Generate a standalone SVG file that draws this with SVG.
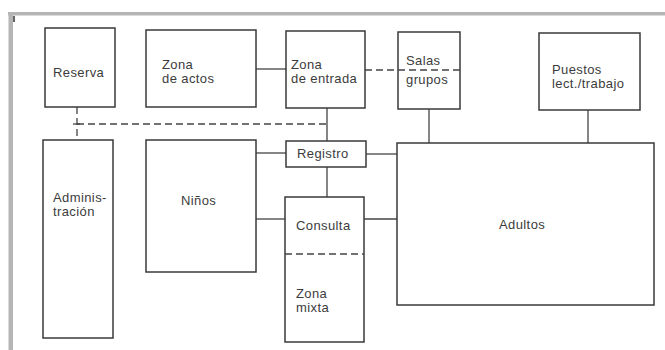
<svg xmlns="http://www.w3.org/2000/svg" width="665" height="350" viewBox="0 0 665 350">
<style>
.box{fill:#fff;stroke:#3a3a3a;stroke-width:1.5}
.ln{stroke:#444;stroke-width:1.3;fill:none}
.dash{stroke:#444;stroke-width:1.3;fill:none;stroke-dasharray:7 4}
text{font-family:"Liberation Sans",Arial,sans-serif;font-size:13px;letter-spacing:0.4px;fill:#3c3c3c}
</style>
<rect width="665" height="350" fill="#fff"/>
<rect x="8" y="12" width="657" height="3.5" fill="#b5b5b5"/>
<rect x="8.5" y="12" width="4.5" height="338" fill="#b5b5b5"/>
<line x1="14" y1="16" x2="14" y2="22" stroke="#333" stroke-width="1.5"/>
<g id="connectors">
<line class="ln" x1="256" y1="69" x2="286" y2="69"/>
<line class="dash" x1="365" y1="70" x2="460" y2="70"/>
<line class="dash" x1="77" y1="107" x2="77" y2="140"/>
<line class="dash" x1="77" y1="124" x2="327" y2="124"/>
<line class="ln" x1="73" y1="124" x2="80" y2="124"/>
<line class="ln" x1="327" y1="108" x2="327" y2="141"/>
<line class="ln" x1="256" y1="153" x2="286" y2="153"/>
<line class="ln" x1="366" y1="154" x2="397" y2="154"/>
<line class="ln" x1="327" y1="167" x2="327" y2="197"/>
<line class="ln" x1="429" y1="109" x2="429" y2="143"/>
<line class="ln" x1="588" y1="110" x2="588" y2="143"/>
<line class="ln" x1="256" y1="219" x2="285" y2="219"/>
<line class="ln" x1="364" y1="219" x2="397" y2="219"/>
</g>
<g id="reserva"><rect class="box" x="45" y="28" width="70" height="79"/><text x="53" y="77">Reserva</text></g>
<g id="zona-actos"><rect class="box" x="146" y="30" width="110" height="77"/><text x="162" y="68.7">Zona<tspan x="162" dy="14.7">de actos</tspan></text></g>
<g id="zona-entrada"><rect class="box" x="286" y="31" width="79" height="77"/><text x="291" y="68.7">Zona<tspan x="291" dy="14.7">de entrada</tspan></text></g>
<g id="salas-grupos"><rect class="box" x="398" y="32" width="62" height="77"/><line class="dash" x1="398" y1="70" x2="460" y2="70"/><text x="406" y="65">Salas<tspan x="406" dy="19">grupos</tspan></text></g>
<g id="puestos"><rect class="box" x="539" y="33" width="101" height="77"/><text x="552" y="73.7">Puestos<tspan x="552" dy="14.7">lect./trabajo</tspan></text></g>
<g id="registro"><rect class="box" x="286" y="141" width="80" height="26"/><text x="297" y="158">Registro</text></g>
<g id="administracion"><rect class="box" x="43" y="140" width="70" height="198"/><text x="53" y="201.7">Adminis-<tspan x="53" dy="14.7">tración</tspan></text></g>
<g id="ninos"><rect class="box" x="146" y="140" width="110" height="132"/><text x="181" y="205">Niños</text></g>
<g id="consulta"><rect class="box" x="285" y="197" width="79" height="145"/><line class="dash" x1="285" y1="254" x2="364" y2="254"/><text x="296" y="230">Consulta</text><text x="296" y="297.7">Zona<tspan x="296" dy="14.7">mixta</tspan></text></g>
<g id="adultos"><rect class="box" x="397" y="143" width="257" height="162"/><text x="499" y="229">Adultos</text></g>
</svg>
